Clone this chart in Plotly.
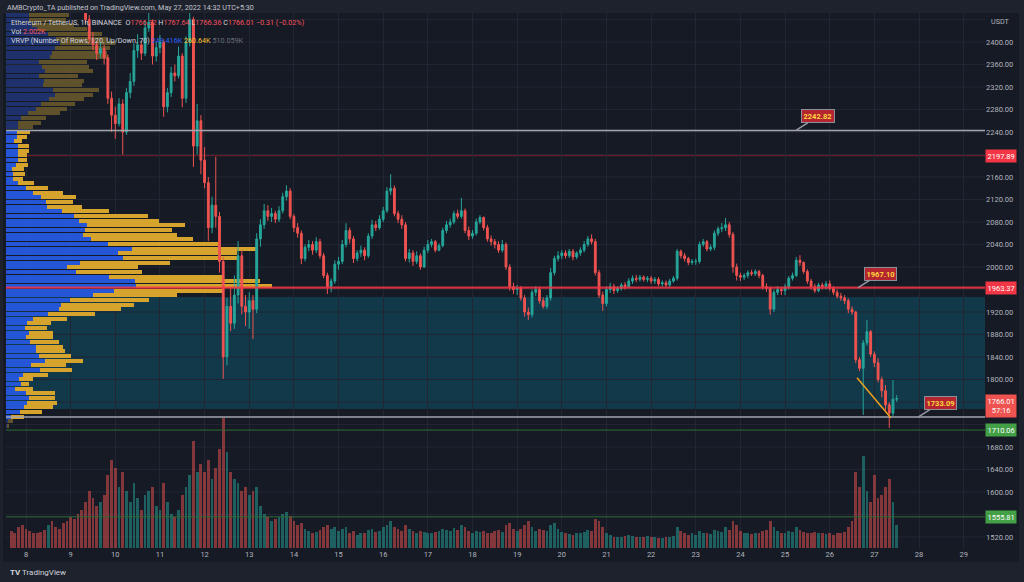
import plotly.graph_objects as go
import pandas as pd

# ---------------- DATA ----------------
CANDLE_START = "2022-05-07 16:00"
CANDLE_FREQ = "2h"

OPEN = [
    2668, 2662, 2655, 2648,
    2636, 2630, 2615, 2600, 2590, 2580, 2570, 2575, 2560, 2545, 2540, 2530,
    2518, 2510, 2500, 2485, 2465, 2440, 2405, 2395, 2380, 2388, 2372, 2300,
    2270, 2255, 2290, 2240, 2310, 2330, 2385, 2395, 2380, 2425, 2435, 2375,
    2390, 2400, 2285, 2310, 2345, 2340, 2375, 2300, 2400, 2440, 2215, 2260,
    2190, 2150, 2070, 2110, 2090, 2010, 1840, 1930, 1900, 1950, 2020, 1930,
    1920, 1940, 1925, 2050, 2075, 2100, 2090, 2095, 2085, 2100, 2125, 2135,
    2090, 2070, 2060, 2015, 2035, 2040, 2030, 2045, 2020, 1985, 1965, 1975,
    2005, 2010, 2040, 2065, 2050, 2015, 2025, 2030, 2020, 2055, 2075, 2070,
    2085, 2100, 2135, 2140, 2095, 2085, 2075, 2015, 2025, 2010, 2020, 2000,
    2030, 2040, 2045, 2030, 2038, 2065, 2075, 2080, 2095, 2090, 2100, 2065,
    2055, 2060, 2080, 2088, 2070, 2050, 2045, 2040, 2030, 2040, 2000, 1965,
    1960, 1962, 1945, 1920, 1915, 1955, 1960, 1940, 1930, 1945, 1990, 2015,
    2020, 2025, 2020, 2028, 2018, 2025, 2030, 2040, 2050, 2045, 1990, 1950,
    1935, 1960, 1965, 1958, 1962, 1968, 1965, 1975, 1980, 1978, 1982, 1978,
    1980, 1975, 1978, 1970, 1972, 1968, 1975, 1980, 2028, 2020, 2015, 2008,
    2010, 2010, 2040, 2045, 2032, 2035, 2060, 2068, 2070, 2075, 2058, 2000,
    1985, 1982, 1985, 1990, 1988, 1992, 1985, 1965, 1962, 1925, 1955, 1960,
    1958, 1965, 1980, 1985, 2012, 2008, 1992, 1975, 1965, 1958, 1968, 1965,
    1970, 1962, 1955, 1948, 1945, 1940, 1925, 1920, 1835, 1820, 1865, 1885,
    1845, 1830, 1800, 1780, 1755, 1740, 1765,
]
HIGH = [
    2675, 2670, 2662, 2652,
    2642, 2634, 2620, 2606, 2596, 2585, 2582, 2580, 2565, 2552, 2546, 2536,
    2525, 2516, 2506, 2490, 2470, 2448, 2418, 2402, 2398, 2395, 2378, 2312,
    2285, 2300, 2298, 2318, 2345, 2398, 2414, 2402, 2438, 2452, 2440, 2400,
    2412, 2405, 2318, 2356, 2360, 2392, 2380, 2410, 2462, 2445, 2290, 2270,
    2213, 2160, 2125, 2196, 2098, 2018, 1945, 1964, 1985, 2046, 2030, 1950,
    1955, 1950, 2060, 2085, 2112, 2110, 2105, 2100, 2108, 2132, 2145, 2140,
    2094, 2078, 2065, 2040, 2048, 2046, 2053, 2050, 2025, 1990, 1980, 2012,
    2018, 2048, 2078, 2070, 2055, 2030, 2038, 2035, 2060, 2084, 2082, 2092,
    2107, 2142, 2165, 2145, 2100, 2092, 2080, 2032, 2030, 2028, 2024, 2036,
    2048, 2050, 2048, 2042, 2070, 2082, 2086, 2100, 2102, 2123, 2104, 2072,
    2066, 2086, 2092, 2090, 2075, 2056, 2050, 2046, 2048, 2044, 2005, 1972,
    1968, 1966, 1950, 1928, 1960, 1966, 1965, 1946, 1950, 1998, 2020, 2028,
    2030, 2030, 2032, 2032, 2028, 2035, 2046, 2055, 2058, 2050, 1995, 1956,
    1966, 1972, 1970, 1966, 1972, 1973, 1980, 1985, 1986, 1986, 1985, 1984,
    1984, 1982, 1982, 1976, 1976, 1979, 1984, 2032, 2031, 2025, 2018, 2014,
    2015, 2045, 2050, 2048, 2040, 2065, 2072, 2078, 2087, 2080, 2062, 2006,
    1990, 1989, 1994, 1995, 1996, 1995, 1988, 1971, 1965, 1960, 1966, 1964,
    1970, 1984, 1990, 2018, 2021, 2010, 1996, 1979, 1970, 1972, 1972, 1975,
    1976, 1966, 1960, 1954, 1950, 1944, 1930, 1922, 1840, 1870, 1906, 1888,
    1850, 1838, 1805, 1790, 1760, 1799, 1772,
]
LOW = [
    2655, 2648, 2640, 2628,
    2624, 2610, 2594, 2584, 2574, 2564, 2565, 2552, 2538, 2532, 2522, 2510,
    2502, 2494, 2478, 2458, 2432, 2398, 2385, 2368, 2372, 2360, 2290, 2240,
    2228, 2250, 2200, 2235, 2300, 2322, 2372, 2368, 2375, 2418, 2360, 2365,
    2380, 2267, 2275, 2302, 2330, 2335, 2284, 2292, 2392, 2178, 2200, 2165,
    2140, 2046, 2060, 2070, 1990, 1801, 1825, 1886, 1890, 1935, 1916, 1895,
    1890, 1872, 1918, 2036, 2068, 2082, 2080, 2078, 2080, 2095, 2118, 2085,
    2062, 2052, 2005, 2010, 2028, 2022, 2025, 2015, 1980, 1952, 1955, 1970,
    1995, 2005, 2035, 2042, 2007, 2010, 2018, 2012, 2016, 2050, 2064, 2066,
    2080, 2096, 2128, 2090, 2078, 2068, 2010, 2008, 2002, 2005, 1995, 1998,
    2025, 2035, 2026, 2028, 2035, 2060, 2070, 2076, 2085, 2086, 2060, 2048,
    2050, 2056, 2076, 2065, 2045, 2038, 2033, 2025, 2026, 1995, 1958, 1952,
    1950, 1940, 1912, 1906, 1910, 1948, 1935, 1926, 1925, 1940, 1985, 2010,
    2014, 2015, 2016, 2012, 2014, 2020, 2026, 2036, 2040, 1985, 1945, 1922,
    1930, 1954, 1952, 1954, 1958, 1960, 1962, 1970, 1973, 1974, 1974, 1973,
    1970, 1970, 1966, 1965, 1964, 1964, 1972, 1976, 2015, 2010, 2003, 2004,
    2004, 2006, 2036, 2028, 2028, 2030, 2055, 2062, 2064, 2052, 1990, 1976,
    1975, 1977, 1980, 1984, 1984, 1980, 1960, 1956, 1915, 1920, 1950, 1950,
    1950, 1960, 1976, 1982, 2002, 1988, 1970, 1960, 1954, 1955, 1960, 1960,
    1958, 1950, 1944, 1940, 1934, 1918, 1915, 1829, 1815, 1737, 1860, 1840,
    1822, 1795, 1768, 1745, 1714, 1735, 1760,
]
CLOSE = [
    2662, 2655, 2648, 2636,
    2630, 2615, 2600, 2590, 2580, 2570, 2575, 2560, 2545, 2540, 2530, 2518,
    2510, 2500, 2485, 2465, 2440, 2405, 2395, 2380, 2388, 2372, 2300, 2270,
    2255, 2290, 2240, 2310, 2330, 2385, 2395, 2380, 2425, 2435, 2375, 2390,
    2400, 2285, 2310, 2345, 2340, 2375, 2300, 2400, 2440, 2215, 2260, 2190,
    2150, 2070, 2110, 2090, 2010, 1840, 1930, 1900, 1950, 2020, 1930, 1920,
    1940, 1925, 2050, 2075, 2100, 2090, 2095, 2085, 2100, 2125, 2135, 2090,
    2070, 2060, 2015, 2035, 2040, 2030, 2045, 2020, 1985, 1965, 1975, 2005,
    2010, 2040, 2065, 2050, 2015, 2025, 2030, 2020, 2055, 2075, 2070, 2085,
    2100, 2135, 2140, 2095, 2085, 2075, 2015, 2025, 2010, 2020, 2000, 2030,
    2040, 2045, 2030, 2038, 2065, 2075, 2080, 2095, 2090, 2100, 2065, 2055,
    2060, 2080, 2088, 2070, 2050, 2045, 2040, 2030, 2040, 2000, 1965, 1960,
    1962, 1945, 1920, 1915, 1955, 1960, 1940, 1930, 1945, 1990, 2015, 2020,
    2025, 2020, 2028, 2018, 2025, 2030, 2040, 2050, 2045, 1990, 1950, 1935,
    1960, 1965, 1958, 1962, 1968, 1965, 1975, 1980, 1978, 1982, 1978, 1980,
    1975, 1978, 1970, 1972, 1968, 1975, 1980, 2028, 2020, 2015, 2008, 2010,
    2010, 2040, 2045, 2032, 2035, 2060, 2068, 2070, 2075, 2058, 2000, 1985,
    1982, 1985, 1990, 1988, 1992, 1985, 1965, 1962, 1925, 1955, 1960, 1958,
    1965, 1980, 1985, 2012, 2008, 1992, 1975, 1965, 1958, 1968, 1965, 1970,
    1962, 1955, 1948, 1945, 1940, 1925, 1920, 1835, 1820, 1865, 1885, 1845,
    1830, 1800, 1780, 1755, 1740, 1765, 1766.01,
]
VOLUME = [  # thousand ETH per 2h bar
    45, 40, 55, 60,
    50, 45, 40, 38, 42, 48, 60, 70, 55, 50, 65, 70,
    80, 75, 90, 100, 120, 150, 130, 110, 120, 140, 190, 230,
    210, 160, 200, 150, 120, 170, 130, 100, 140, 150, 160, 110,
    100, 170, 120, 90, 80, 100, 140, 160, 190, 280, 200, 220,
    200, 230, 180, 210, 260, 340, 250, 200, 180, 170, 150, 160,
    140, 150, 160, 110, 90, 80, 70, 75, 80, 90, 95, 85,
    70, 60, 65, 50, 45, 40, 42, 48, 55, 60, 50, 55,
    45, 50, 55, 40, 45, 35, 38, 40, 48, 50, 42, 45,
    55, 60, 70, 55, 50, 45, 60, 50, 45, 40, 45, 42,
    40, 38, 42, 45, 50, 48, 45, 52, 48, 60, 55, 45,
    40, 45, 42, 44, 40, 38, 45, 48, 42, 60, 65, 50,
    45, 50, 60, 70, 55, 45, 50, 48, 45, 60, 65, 50,
    42, 38, 36, 35, 40, 38, 42, 48, 45, 75, 70, 55,
    40, 35, 30, 28, 30, 32, 35, 32, 30, 28, 30, 32,
    30, 28, 25, 26, 28, 30, 32, 55, 45, 40, 35, 38,
    35, 45, 40, 38, 36, 48, 45, 42, 55, 48, 70, 60,
    45, 40, 38, 36, 40, 38, 45, 48, 70, 55, 45, 40,
    40, 45, 42, 55, 48, 42, 40, 38, 42, 40, 38, 36,
    38, 35, 40, 38, 42, 55, 70, 200, 160, 240, 150, 120,
    190, 130, 140, 160, 180, 120, 60,
]

# Visible-range volume profile (VRVP), rows from top to bottom, thousand ETH
PROFILE_TOP = 2455.67
PROFILE_STEP = 8.296
PROFILE_UP = [
    40, 45, 45, 50, 60, 80, 95,
    103.6, 94.0, 87.6, 84.4, 63.9, 68.4, 74.8, 63.9, 72.9, 71.6,
    90.8, 94.0, 83.1, 66.5, 57.5, 42.8, 28.1, 23.7, 23.7,
    21.7, 21.7, 15.3, 23.7, 23.7, 23.7, 23.7, 19.2, 11.5, 14.1,
    12.8, 23.7, 38.4, 52.4, 66.5, 76.7, 78.0, 108.0, 130.4, 139.4,
    156.0, 151.5, 148.3, 163.7, 195.0, 241.0, 215.5, 225.0, 141.9, 116.4,
    134.3, 198.2, 247.4, 249.4, 207.1, 166.2, 122.8, 105.5, 101.0, 81.2,
    52.4, 40.9, 36.4, 44.1, 38.4, 46.0, 57.5, 57.5, 63.9, 75.4,
    47.3, 65.2, 33.2, 25.6, 28.1, 17.3, 38.4, 44.8, 39.6, 34.5,
    26.9, 9.6, 4.5, 2.0,
]
PROFILE_DOWN = [
    70, 75, 70, 80, 95, 105, 100,
    105.5, 105.5, 105.5, 111.9, 92.1, 91.4, 92.7, 74.8, 76.7, 73.5,
    86.9, 73.5, 66.5, 65.8, 58.8, 60.7, 48.6, 42.8, 27.5,
    24.3, 19.2, 15.3, 19.8, 20.5, 16.0, 17.3, 23.0, 23.0, 22.4,
    20.5, 30.7, 42.8, 57.5, 67.8, 51.1, 67.8, 90.1, 141.9, 153.4,
    187.3, 167.5, 179.0, 194.3, 215.4, 239.7, 228.2, 222.5, 172.6, 137.4,
    125.9, 217.4, 239.7, 260.6, 211.0, 162.4, 152.2, 140.6, 119.5, 89.5,
    63.9, 44.8, 41.6, 46.7, 52.4, 56.3, 52.4, 55.6, 60.1, 71.6,
    67.8, 60.7, 47.9, 26.9, 16.6, 33.9, 56.3, 49.2, 57.5, 55.0,
    41.6, 24.9, 8.3, 3.0,
]
VA_HIGH = 2244.1
VA_LOW = 1729.8

# Price-axis tick labels
PRICE_TICKS = [1520, 1600, 1640, 1680, 1760, 1800, 1840, 1880, 1920,
               2000, 2040, 2080, 2120, 2160, 2240, 2280, 2320, 2360, 2400]

# Drawn levels
LEVEL_GRAY_TOP = 2242.82
LEVEL_DARKRED = 2197.89
LEVEL_POC = 1963.37
LEVEL_GRAY_LOW = 1733.09
LEVEL_GREEN_1 = 1710.06
LEVEL_GREEN_2 = 1555.81
ZONE = (1747.5, 1946.7)
TRENDLINE = [("2022-05-26 14:40", 1803.0), ("2022-05-27 08:50", 1732.0)]
CALLOUTS = [
    ("2022-05-25 05:50", 2242.82, "2242.82"),
    ("2022-05-26 15:15", 1963.37, "1967.10"),
    ("2022-05-27 23:30", 1733.09, "1733.09"),
]
LAST_PRICE = 1766.01
COUNTDOWN = "57:16"

assert len(OPEN) == len(HIGH) == len(LOW) == len(CLOSE) == len(VOLUME)
assert len(PROFILE_UP) == len(PROFILE_DOWN)

# ---------------- FIGURE ----------------
BG = "#161a25"
FRAME = "#1e222d"
GRID = "#222633"
TXT = "#b2b5be"
FONT = "Roboto, Liberation Sans, sans-serif"
UP_C = "#26a69a"
DN_C = "#ef5350"

times = pd.date_range(CANDLE_START, periods=len(CLOSE), freq=CANDLE_FREQ)
vol_colors = ["rgba(38,166,154,0.5)" if c >= o else "rgba(239,83,80,0.5)"
              for o, c in zip(OPEN, CLOSE)]

row_prices = [PROFILE_TOP - i * PROFILE_STEP for i in range(len(PROFILE_UP))]
in_va = [VA_LOW <= p <= VA_HIGH for p in row_prices]
up_cols = ["#2556d8" if v else "#1f316b" for v in in_va]
dn_cols = ["#d6a42c" if v else "#5f5129" for v in in_va]

fig = go.Figure()

# volume profile on base subplot (x, y)
fig.add_trace(go.Bar(x=PROFILE_UP, y=row_prices, base=0, orientation="h",
                     marker=dict(color=up_cols, line=dict(width=0)),
                     width=PROFILE_STEP * 0.82, xaxis="x", yaxis="y",
                     hoverinfo="skip", showlegend=False))
fig.add_trace(go.Bar(x=PROFILE_DOWN, y=row_prices, base=PROFILE_UP, orientation="h",
                     marker=dict(color=dn_cols, line=dict(width=0)),
                     width=PROFILE_STEP * 0.82, xaxis="x", yaxis="y",
                     hoverinfo="skip", showlegend=False))

# candles
fig.add_trace(go.Candlestick(
    x=times, open=OPEN, high=HIGH, low=LOW, close=CLOSE,
    increasing=dict(line=dict(color=UP_C, width=1), fillcolor=UP_C),
    decreasing=dict(line=dict(color=DN_C, width=1), fillcolor=DN_C),
    whiskerwidth=0, xaxis="x2", yaxis="y", showlegend=False))

# volume
fig.add_trace(go.Bar(x=times, y=VOLUME, marker=dict(color=vol_colors, line=dict(width=0)),
                     width=2 * 3600 * 1000 * 0.75, xaxis="x2", yaxis="y2",
                     showlegend=False, hoverinfo="skip"))

L, R, T, B = 6, 39, 13, 34
PW, PH = 1024 - L - R, 582 - T - B


def px(xp):
    return (xp - L) / PW


def py(yp):
    return (582 - B - yp) / PH


shapes = [
    dict(type="rect", xref="paper", yref="paper", x0=px(3), x1=px(1019), y0=py(562), y1=1,
         fillcolor=BG, line=dict(width=0), layer="below"),
    dict(type="rect", xref="paper", yref="y", x0=0, x1=1, y0=ZONE[0], y1=ZONE[1],
         fillcolor="#12394a", line=dict(width=0), layer="below"),
    dict(type="line", xref="paper", yref="y", x0=0, x1=1, y0=LEVEL_DARKRED, y1=LEVEL_DARKRED,
         line=dict(color="#7a1f28", width=1), layer="between"),
    dict(type="line", xref="paper", yref="y", x0=0, x1=1, y0=LEVEL_GRAY_TOP, y1=LEVEL_GRAY_TOP,
         line=dict(color="#a3a6ae", width=1.5)),
    dict(type="line", xref="paper", yref="y", x0=0, x1=1, y0=LEVEL_POC, y1=LEVEL_POC,
         line=dict(color="rgba(242,54,69,0.85)", width=2.2)),
    dict(type="line", xref="paper", yref="y", x0=0, x1=1, y0=LEVEL_GRAY_LOW, y1=LEVEL_GRAY_LOW,
         line=dict(color="#a3a6ae", width=1.5)),
    dict(type="line", xref="paper", yref="y", x0=0, x1=1, y0=LEVEL_GREEN_1, y1=LEVEL_GREEN_1,
         line=dict(color="#2f6e36", width=1)),
    dict(type="line", xref="paper", yref="y", x0=0, x1=1, y0=LEVEL_GREEN_2, y1=LEVEL_GREEN_2,
         line=dict(color="#2f6e36", width=1)),
    dict(type="line", xref="x2", yref="y", x0=TRENDLINE[0][0], y0=TRENDLINE[0][1],
         x1=TRENDLINE[1][0], y1=TRENDLINE[1][1], line=dict(color="#f0a020", width=1.5)),
    dict(type="rect", xref="paper", yref="paper", x0=px(0), x1=px(1024), y0=py(582), y1=py(563),
         fillcolor=FRAME, line=dict(width=0), layer="below"),
]

ann = []


def axis_label(y, text, bg, yshift=0, yanchor="middle"):
    ann.append(dict(xref="paper", yref="y", x=1.0, y=y, xanchor="left", yanchor=yanchor,
                    text=text, showarrow=False, bgcolor=bg, borderpad=1.5, yshift=yshift,
                    font=dict(color="white", size=7.5, family=FONT), align="center"))


axis_label(LEVEL_DARKRED, f"{LEVEL_DARKRED:.2f}", "#f23645")
axis_label(LEVEL_POC, f"{LEVEL_POC:.2f}", "#f23645")
axis_label(LAST_PRICE, f"{LAST_PRICE:.2f}<br>{COUNTDOWN}", "#ef5350", yshift=5, yanchor="top")
axis_label(LEVEL_GREEN_1, f"{LEVEL_GREEN_1:.2f}", "#43a047")
axis_label(LEVEL_GREEN_2, f"{LEVEL_GREEN_2:.2f}", "#43a047")

for t, p, txt in CALLOUTS:
    ann.append(dict(xref="x2", yref="y", x=t, y=p, text=f"<b>{txt}</b>", showarrow=True,
                    arrowhead=0, arrowwidth=1.5, arrowcolor="#9598a1", ax=22, ay=-14,
                    bgcolor="#b3262f", bordercolor="#8d9099", borderwidth=1, borderpad=1.5,
                    font=dict(color="#ffd740", size=7.5, family=FONT)))


def header(xp, yp, text, size=7.2, color=TXT):
    ann.append(dict(xref="paper", yref="paper", x=px(xp), y=py(yp), xanchor="left",
                    yanchor="middle", text=text, showarrow=False,
                    font=dict(color=color, size=size, family=FONT)))


RED = "#f7525f"
LT = "#d1d4dc"
header(5, 7, "AMBCrypto_TA published on TradingView.com, May 27, 2022 14:32 UTC+5:30", color="#c3c6ce")
header(9, 22.5, f"<span style='color:{LT}'>Ethereum / TetherUS, 1h, BINANCE</span>  "
       f"<span style='color:{LT}'>O</span><span style='color:{RED}'>1766.32</span> "
       f"<span style='color:{LT}'>H</span><span style='color:{RED}'>1767.64</span> "
       f"<span style='color:{LT}'>L</span><span style='color:{RED}'>1766.36</span> "
       f"<span style='color:{LT}'>C</span><span style='color:{RED}'>1766.01</span> "
       f"<span style='color:{RED}'>−0.31 (−0.02%)</span>")
header(9, 31.5, f"<span style='color:{LT}'>Vol</span> <span style='color:{RED}'>2.002K</span>")
header(9, 40.5, f"<span style='color:{LT}'>VRVP (Number Of Rows, 120, Up/Down, 70)</span> "
       f"<span style='color:#2962ff'>249.416K</span> <span style='color:#fbc02d'>260.64K</span> "
       f"<span style='color:#6a6d78'>510.059K</span>")
header(989, 21.5, "USDT", color=TXT)
header(8, 572, "<b>TV</b> TradingView", size=8, color="#d1d4dc")

prof_max = PW * 1.918  # thousand ETH across the full pane width

fig.update_layout(
    width=1024, height=582, margin=dict(l=L, r=R, t=T, b=B),
    paper_bgcolor=FRAME, plot_bgcolor=BG,
    font=dict(family=FONT, color=TXT, size=7.5),
    barmode="overlay", bargap=0, showlegend=False,
    xaxis=dict(range=[0, prof_max], visible=False, domain=[0, 1], fixedrange=True),
    xaxis2=dict(type="date", overlaying="x", side="bottom", anchor="y",
                range=["2022-05-07 13:15", "2022-05-29 11:28"],
                tick0="2022-05-08", dtick=86400000, tickformat="%-d",
                showgrid=True, gridcolor=GRID, gridwidth=1, zeroline=False,
                showline=False, ticks="", tickfont=dict(size=7.5, color=TXT),
                rangeslider=dict(visible=False)),
    yaxis=dict(range=[1500.4, 2451.6], side="right", anchor="x",
               tickmode="array", tickvals=PRICE_TICKS,
               tickformat=".2f", showgrid=False,
               zeroline=False, showline=False, ticks="", tickfont=dict(size=7.5, color=TXT)),
    yaxis2=dict(range=[0, 1400], overlaying="y", anchor="x2", visible=False),
    shapes=shapes, annotations=ann,
)

# horizontal price grid every 40 (including levels whose labels are covered)
for g in range(1520, 2441, 40):
    fig.add_hline(y=g, line=dict(color=GRID, width=1), layer="below")

fig.write_html("out.html")
